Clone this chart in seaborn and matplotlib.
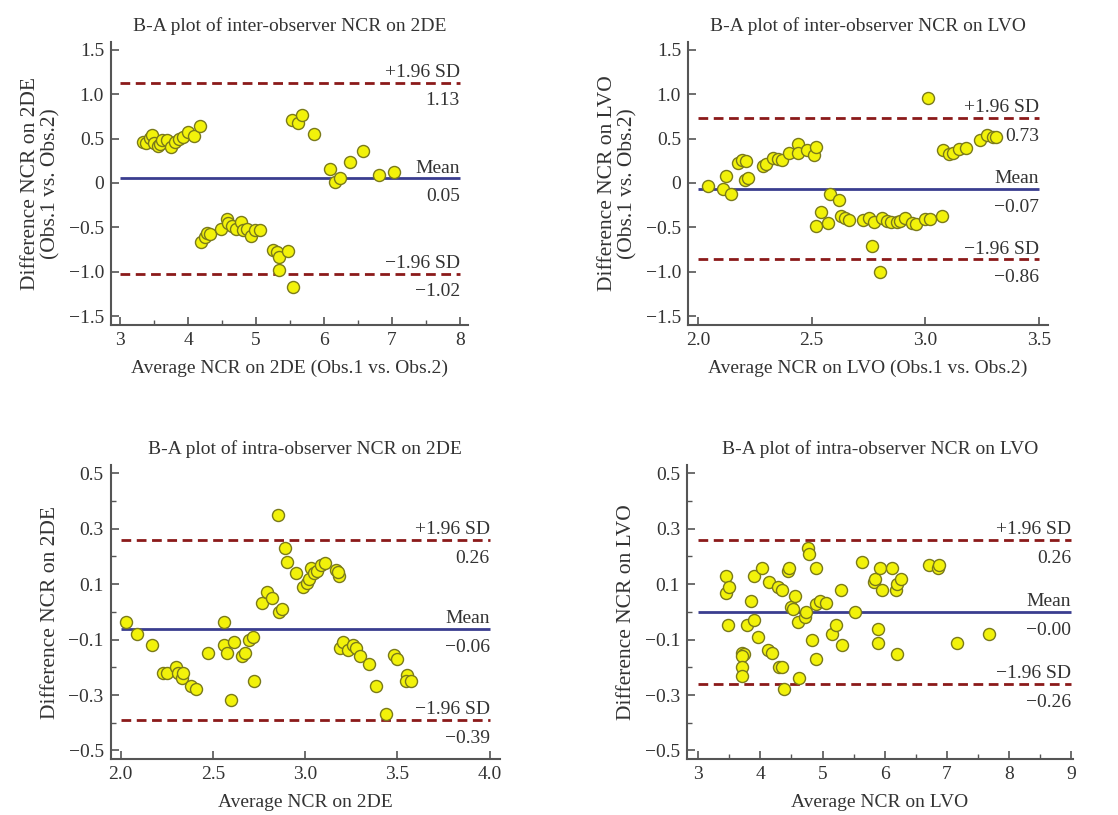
import numpy as np
import pandas as pd
import matplotlib
matplotlib.use("Agg")
import matplotlib.pyplot as plt
from matplotlib.ticker import MultipleLocator
import seaborn as sns

# Données (moyenne, différence)
inter_2de_x = [3.34, 3.38, 3.43, 3.47, 3.50, 3.55, 3.59, 3.62, 3.69, 3.75, 3.81, 3.87, 3.92, 3.99, 4.09, 4.17,
               4.19, 4.24, 4.28, 4.32, 4.49, 4.575, 4.59, 4.65, 4.71, 4.77, 4.81, 4.87, 4.93, 4.99, 5.05,
               5.25, 5.31, 5.34, 5.47, 5.34, 5.55,
               5.53, 5.62, 5.68, 5.85, 6.09, 6.16, 6.24, 6.38, 6.57, 6.81, 7.03]
inter_2de_y = [0.46, 0.45, 0.51, 0.54, 0.45, 0.42, 0.44, 0.48, 0.48, 0.41, 0.46, 0.49, 0.52, 0.57, 0.53, 0.64,
               -0.665, -0.61, -0.56, -0.58, -0.52, -0.41, -0.45, -0.49, -0.515, -0.44, -0.53, -0.515, -0.60, -0.53, -0.53,
               -0.76, -0.78, -0.83, -0.77, -0.98, -1.17,
               0.71, 0.67, 0.77, 0.555, 0.16, 0.01, 0.05, 0.24, 0.36, 0.09, 0.12]

inter_lvo_x = [2.044, 2.11, 2.125, 2.147, 2.176, 2.195, 2.21, 2.206, 2.22, 2.286, 2.30, 2.33, 2.35, 2.37,
               2.40, 2.44, 2.44, 2.48, 2.51, 2.52,
               2.52, 2.54, 2.57, 2.58, 2.62, 2.63, 2.646, 2.665, 2.727, 2.753, 2.775, 2.764, 2.80,
               2.81, 2.83, 2.85, 2.874, 2.89, 2.91, 2.94, 2.96, 3.00, 3.02, 3.01, 3.075,
               3.076, 3.105, 3.12, 3.15, 3.18, 3.24, 3.27, 3.30, 3.31]
inter_lvo_y = [-0.034, -0.07, 0.08, -0.12, 0.225, 0.26, 0.25, 0.03, 0.05, 0.19, 0.21, 0.28, 0.27, 0.255,
               0.34, 0.435, 0.34, 0.37, 0.31, 0.40,
               -0.48, -0.33, -0.45, -0.12, -0.195, -0.375, -0.40, -0.42, -0.42, -0.40, -0.44, -0.71, -1.00,
               -0.39, -0.43, -0.44, -0.44, -0.43, -0.39, -0.45, -0.46, -0.41, -0.41, 0.955, -0.37,
               0.37, 0.33, 0.34, 0.38, 0.39, 0.48, 0.54, 0.52, 0.52]

intra_2de_x = [2.03, 2.087, 2.168, 2.227, 2.249, 2.30, 2.309, 2.33, 2.336, 2.38, 2.41, 2.475, 2.56, 2.56,
               2.574, 2.615, 2.60, 2.66, 2.673, 2.697, 2.715, 2.724, 2.764, 2.794, 2.823, 2.854, 2.86,
               2.877, 2.893, 2.90, 2.95, 2.99, 3.01, 3.02, 3.034, 3.05, 3.065, 3.088, 3.11, 3.166,
               3.184, 3.18, 3.19, 3.206, 3.233, 3.26, 3.274, 3.30, 3.345, 3.386, 3.44, 3.48, 3.50,
               3.554, 3.545, 3.576]
intra_2de_y = [-0.038, -0.079, -0.119, -0.219, -0.219, -0.20, -0.219, -0.237, -0.219, -0.269, -0.279, -0.149,
               -0.038, -0.119, -0.149, -0.109, -0.317, -0.159, -0.149, -0.101, -0.089, -0.249, 0.031,
               0.070, 0.049, 0.350, 0.001, 0.010, 0.230, 0.179, 0.139, 0.089, 0.103, 0.118, 0.157,
               0.142, 0.149, 0.170, 0.178, 0.151, 0.131, 0.143, -0.131, -0.109, -0.139, -0.119, -0.131,
               -0.159, -0.189, -0.269, -0.368, -0.157, -0.169, -0.229, -0.249, -0.249]

intra_lvo_x = [3.44, 3.44, 3.50, 3.48, 3.71, 3.74, 3.71, 3.71, 3.71, 3.78, 3.85, 3.90, 3.89, 3.96, 4.03,
               4.14, 4.12, 4.18, 4.29, 4.355, 4.30, 4.34, 4.377, 4.45, 4.46, 4.49, 4.52, 4.55, 4.60,
               4.62, 4.71, 4.74, 4.76, 4.78, 4.83, 4.89, 4.90, 4.90, 4.955, 5.06, 5.16, 5.21, 5.29,
               5.32, 5.53, 5.64, 5.82, 5.85, 5.90, 5.89, 5.93, 5.96, 6.12, 6.18, 6.20, 6.20, 6.27,
               6.71, 6.86, 6.87, 7.17, 7.68]
intra_lvo_y = [0.130, 0.067, 0.089, -0.049, -0.149, -0.151, -0.161, -0.200, -0.230, -0.049, 0.040, 0.130,
               -0.029, -0.091, 0.160, 0.109, -0.137, -0.149, 0.089, 0.079, -0.200, -0.200, -0.279,
               0.149, 0.160, 0.019, 0.011, 0.059, -0.038, -0.239, -0.019, 0.000, 0.230, 0.209,
               -0.101, -0.169, 0.160, 0.029, 0.040, 0.031, -0.080, -0.049, 0.079, -0.121, 0.000,
               0.179, 0.109, 0.119, -0.061, -0.111, 0.160, 0.079, 0.160, 0.079, 0.100, -0.151, 0.119,
               0.169, 0.160, 0.169, -0.111, -0.080]

# Statistiques affichées (moyenne, +1.96 SD, -1.96 SD)
stats_mean = [0.05, -0.07, -0.06, -0.00]
stats_upper = [1.13, 0.73, 0.26, 0.26]
stats_lower = [-1.02, -0.86, -0.39, -0.26]

titles = ["B-A plot of inter-observer NCR on 2DE", "B-A plot of inter-observer NCR on LVO",
          "B-A plot of intra-observer NCR on 2DE", "B-A plot of intra-observer NCR on LVO"]
xlabels = ["Average NCR on 2DE (Obs.1 vs. Obs.2)", "Average NCR on LVO (Obs.1 vs. Obs.2)",
           "Average NCR on 2DE", "Average NCR on LVO"]
ylabels = ["Difference NCR on 2DE\n(Obs.1 vs. Obs.2)", "Difference NCR on LVO\n(Obs.1 vs. Obs.2)",
           "Difference NCR on 2DE", "Difference NCR on LVO"]

sns.set_style("ticks")
plt.rcParams['font.family'] = ['Liberation Serif', 'DejaVu Serif']
plt.rcParams['axes.unicode_minus'] = True
plt.rcParams['xtick.direction'] = 'in'
plt.rcParams['ytick.direction'] = 'in'

txt_col = '#333333'
spine_col = '#555555'

fig = plt.figure(figsize=(11.18, 8.15), dpi=100)
positions = [[0.0993, 0.6012, 0.3193, 0.3472],
             [0.6154, 0.6012, 0.3220, 0.3472],
             [0.0990, 0.0687, 0.3480, 0.3607],
             [0.6145, 0.0687, 0.3453, 0.3607]]
xlims = [(2.863, 8.12), (1.956, 3.54), (1.946, 4.055), (2.82, 9.03)]
ylims = [(-1.60, 1.586), (-1.60, 1.586), (-0.531, 0.53), (-0.531, 0.53)]
xranges = [(3, 8), (2.0, 3.5), (2.0, 4.0), (3, 9)]
xmajor = [1, 0.5, 0.5, 1]
xminor = [0.5, None, None, 0.5]
yminor = [None, None, 0.1, 0.1]
series = [(inter_2de_x, inter_2de_y), (inter_lvo_x, inter_lvo_y),
          (intra_2de_x, intra_2de_y), (intra_lvo_x, intra_lvo_y)]

for i in range(4):
    ax = fig.add_axes(positions[i])
    df = pd.DataFrame({'moyenne': series[i][0], 'difference': series[i][1]})
    x0, x1 = xranges[i]
    # Lignes moyenne et limites d'accord
    ax.hlines(stats_mean[i], x0, x1, color='#3a3d8f', lw=2, zorder=2)
    ax.hlines([stats_upper[i], stats_lower[i]], x0, x1, color='#8b1a1a', lw=2,
              linestyles=(0, (3.5, 2)), zorder=2)
    sns.scatterplot(data=df, x='moyenne', y='difference', ax=ax, s=75, color='#f2f20a',
                    edgecolor='#7a7a1a', linewidth=1.0, zorder=3, legend=False)
    ax.set_xlim(*xlims[i])
    ax.set_ylim(*ylims[i])
    ax.xaxis.set_major_locator(MultipleLocator(xmajor[i]))
    if xminor[i]:
        ax.xaxis.set_minor_locator(MultipleLocator(xminor[i]))
    if yminor[i]:
        ax.yaxis.set_minor_locator(MultipleLocator(yminor[i]))
    if i < 2:
        ax.set_yticks([-1.5, -1.0, -0.5, 0, 0.5, 1.0, 1.5])
        ax.set_yticklabels(['\u22121.5', '\u22121.0', '\u22120.5', '0', '0.5', '1.0', '1.5'])
    else:
        ax.set_yticks([-0.5, -0.3, -0.1, 0.1, 0.3, 0.5])
        ax.set_yticklabels(['\u22120.5', '\u22120.3', '\u22120.1', '0.1', '0.3', '0.5'])
    if i == 1 or i == 2:
        ax.xaxis.set_major_formatter(matplotlib.ticker.FormatStrFormatter('%.1f'))
    ax.tick_params(which='major', length=6, width=1.2, color=spine_col, labelsize=14,
                   labelcolor=txt_col, pad=5)
    ax.tick_params(which='minor', length=3.5, width=1.0, color=spine_col)
    sns.despine(ax=ax)
    for sp in ['left', 'bottom']:
        ax.spines[sp].set_color(spine_col)
        ax.spines[sp].set_linewidth(1.5)
    ax.set_title(titles[i], fontsize=14, color=txt_col, pad=8)
    ax.set_xlabel(xlabels[i], fontsize=14, color=txt_col, labelpad=8)
    ax.set_ylabel(ylabels[i], fontsize=15.5, color=txt_col, labelpad=6, linespacing=1.1)

    # Annotations à droite
    dy = 0.02 * (ylims[i][1] - ylims[i][0])
    up, down = 0.3 * dy, 1.7 * dy

    def fmt(v):
        s = f"{abs(v):.2f}"
        return ('\u2212' + s) if v < 0 or (v == 0 and i == 3) else s
    for val, lab in [(stats_upper[i], "+1.96 SD"), (stats_mean[i], "Mean"), (stats_lower[i], "\u22121.96 SD")]:
        ax.text(x1, val + up, lab, ha='right', va='bottom', fontsize=14, color=txt_col)
        ax.text(x1, val - down, fmt(val), ha='right', va='top', fontsize=14, color=txt_col)

fig.savefig("out.png", dpi=100)
